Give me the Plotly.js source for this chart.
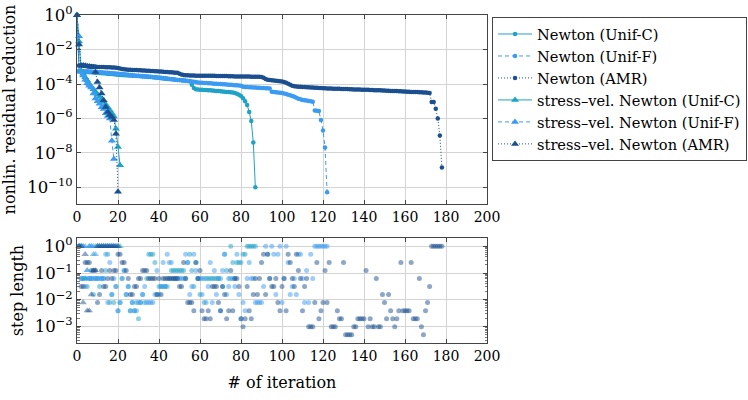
<!DOCTYPE html>
<html>
<head>
<meta charset="utf-8">
<script src="https://cdn.plot.ly/plotly-3.0.1.min.js"></script>
<style>
  html, body { margin: 0; padding: 0; background: #fff; }
  #chart { width: 748px; height: 400px; }
</style>
</head>
<body>
<div id="chart"></div>
<script>
// legend labels
const names = [
    'Newton (Unif-C)',
    'Newton (Unif-F)',
    'Newton (AMR)',
    'stress–vel. Newton (Unif-C)',
    'stress–vel. Newton (Unif-F)',
    'stress–vel. Newton (AMR)'
];
const colors = ['#1fa2c7', '#3b9bf2', '#1b4f8f'];

// nonlinear residual reduction, iteration 0..N
const resNewtonUnifC = [1,
    5.6e-4, 5.4e-4, 5.2e-4, 5.1e-4, 5.0e-4, 4.9e-4, 4.8e-4, 4.7e-4, 4.6e-4, 4.5e-4,
    4.4e-4, 4.3e-4, 4.2e-4, 4.1e-4, 4.0e-4, 3.9e-4, 3.8e-4, 3.7e-4, 3.6e-4, 3.5e-4,
    3.4e-4, 3.35e-4, 3.3e-4, 3.25e-4, 3.2e-4, 3.15e-4, 3.1e-4, 3.0e-4, 2.95e-4, 2.9e-4,
    2.85e-4, 2.8e-4, 2.75e-4, 2.7e-4, 2.6e-4, 2.55e-4, 2.5e-4, 2.45e-4, 2.4e-4, 2.35e-4,
    2.3e-4, 2.25e-4, 2.2e-4, 2.1e-4, 2.0e-4, 1.95e-4, 1.9e-4, 1.8e-4, 1.75e-4, 1.7e-4,
    1.65e-4, 1.6e-4, 1.55e-4, 1.5e-4, 1.45e-4, 9e-5, 6e-5, 5.0e-5,
    4.8e-5, 4.7e-5, 4.6e-5, 4.5e-5, 4.45e-5, 4.4e-5, 4.3e-5, 4.2e-5, 4.1e-5, 4.0e-5,
    3.9e-5, 3.8e-5, 3.7e-5, 3.6e-5, 3.5e-5, 3.4e-5, 3.3e-5,
    3.2e-5, 3.0e-5, 2.7e-5, 2.4e-5, 2.0e-5, 1.5e-5, 1.0e-5,
    6e-6, 2.4e-6, 7e-7, 4e-8, 1e-10];
const resNewtonUnifF = [1,
    6.0e-4, 5.8e-4, 5.7e-4, 5.6e-4, 5.5e-4, 5.4e-4, 5.3e-4, 5.2e-4, 5.1e-4, 5.0e-4,
    4.9e-4, 4.8e-4, 4.7e-4, 4.6e-4, 4.5e-4, 4.4e-4, 4.3e-4, 4.2e-4, 4.1e-4, 4.0e-4,
    3.9e-4, 3.8e-4, 3.7e-4, 3.6e-4, 3.5e-4, 3.4e-4, 3.3e-4, 3.2e-4, 3.1e-4, 3.0e-4,
    2.95e-4, 2.9e-4, 2.85e-4, 2.8e-4, 2.75e-4, 2.7e-4, 2.6e-4, 2.5e-4, 2.4e-4, 2.3e-4,
    2.2e-4, 2.1e-4, 2.05e-4, 2.0e-4, 1.95e-4, 1.9e-4, 1.85e-4, 1.8e-4, 1.75e-4, 1.7e-4,
    1.65e-4, 1.6e-4, 1.55e-4, 1.5e-4, 1.45e-4, 1.4e-4, 1.35e-4, 1.3e-4, 1.25e-4, 1.2e-4,
    1.18e-4, 1.16e-4, 1.14e-4, 1.12e-4, 1.1e-4, 1.08e-4, 1.06e-4, 1.04e-4, 1.02e-4, 1.0e-4,
    9.8e-5, 9.6e-5, 9.4e-5, 9.2e-5, 9.0e-5, 8.8e-5, 8.6e-5, 8.4e-5, 8.2e-5, 8.0e-5,
    7.0e-5, 6.8e-5, 6.7e-5, 6.6e-5, 6.5e-5, 6.4e-5, 6.3e-5, 6.2e-5, 6.1e-5, 6.0e-5,
    5.9e-5, 5.8e-5, 5.7e-5, 5.6e-5, 3.6e-5, 3.4e-5, 3.3e-5, 3.2e-5, 3.1e-5, 3.0e-5,
    2.8e-5, 2.6e-5, 2.4e-5, 2.2e-5, 2.0e-5, 1.8e-5, 1.6e-5, 1.4e-5, 1.3e-5, 1.2e-5,
    1.15e-5, 1.1e-5, 1.05e-5, 1.0e-5, 9.5e-6,
    2.9e-6, 2.8e-6, 2.7e-6, 8e-7, 2e-7, 2e-8, 5e-11];
const resNewtonAMR = [1,
    1.2e-3, 1.2e-3, 1.15e-3, 1.15e-3, 1.1e-3, 1.1e-3, 1.1e-3, 1.05e-3, 1.05e-3, 1.0e-3,
    1.0e-3, 9.8e-4, 9.7e-4, 9.6e-4, 9.5e-4, 9.4e-4, 9.3e-4, 9.2e-4, 9.0e-4, 8.5e-4,
    8.0e-4, 7.6e-4, 7.3e-4, 7.1e-4, 6.9e-4, 6.8e-4, 6.7e-4, 6.6e-4, 6.5e-4, 6.4e-4,
    6.3e-4, 6.2e-4, 6.1e-4, 6.0e-4, 5.9e-4, 5.8e-4, 5.7e-4, 5.6e-4, 5.5e-4, 5.4e-4,
    5.3e-4, 5.2e-4, 5.1e-4, 5.0e-4, 4.9e-4, 4.8e-4, 4.7e-4, 4.6e-4, 4.5e-4, 4.0e-4,
    3.6e-4, 3.4e-4, 3.3e-4, 3.3e-4, 3.2e-4, 3.2e-4, 3.2e-4, 3.1e-4, 3.1e-4, 3.1e-4,
    3.1e-4, 3.05e-4, 3.05e-4, 3.0e-4, 3.0e-4, 3.0e-4, 3.0e-4, 2.95e-4, 2.95e-4, 2.95e-4,
    2.9e-4, 2.9e-4, 2.9e-4, 2.85e-4, 2.85e-4, 2.85e-4, 2.8e-4, 2.8e-4, 2.8e-4, 2.8e-4,
    2.8e-4, 2.75e-4, 2.75e-4, 2.75e-4, 2.7e-4, 2.7e-4, 2.7e-4, 2.7e-4, 2.65e-4, 2.6e-4,
    2.3e-4, 2.0e-4, 1.8e-4, 1.7e-4, 1.65e-4, 1.6e-4, 1.55e-4, 1.5e-4, 1.45e-4, 1.4e-4,
    1.3e-4, 1.2e-4, 1.05e-4, 9.0e-5, 8.0e-5, 7.5e-5, 7.2e-5, 7.0e-5, 6.9e-5, 6.8e-5,
    6.7e-5, 6.6e-5, 6.5e-5, 6.4e-5, 6.3e-5, 6.2e-5, 6.1e-5, 6.0e-5, 5.9e-5, 5.8e-5,
    5.7e-5, 5.6e-5, 5.5e-5, 5.5e-5, 5.4e-5, 5.4e-5, 5.3e-5, 5.3e-5, 5.2e-5, 5.2e-5,
    5.1e-5, 5.1e-5, 5.0e-5, 5.0e-5, 4.9e-5, 4.9e-5, 4.8e-5, 4.8e-5, 4.7e-5, 4.7e-5,
    4.6e-5, 4.6e-5, 4.5e-5, 4.5e-5, 4.4e-5, 4.4e-5, 4.3e-5, 4.3e-5, 4.2e-5, 4.2e-5,
    4.1e-5, 4.1e-5, 4.0e-5, 4.0e-5, 3.9e-5, 3.9e-5, 3.8e-5, 3.8e-5, 3.7e-5, 3.7e-5,
    3.6e-5, 3.6e-5, 3.5e-5, 3.5e-5, 3.4e-5, 3.4e-5, 3.3e-5, 3.3e-5, 3.2e-5, 3.2e-5,
    3.1e-5, 3.0e-5, 9e-6, 9e-6, 3.7e-6, 1.0e-6, 1.0e-7, 1.4e-9];
const resStressUnifC = [1, 3e-2, 6e-4, 4e-4, 2.5e-4, 1.6e-4, 1.0e-4, 7e-5, 5e-5, 3.5e-5, 2.5e-5,
    1.8e-5, 1.3e-5, 9e-6, 6.5e-6, 4.5e-6, 3e-6, 2e-6, 1.3e-6, 2.5e-7, 2.2e-8, 1.9e-9];
const resStressUnifF = [1, 6e-2, 5e-4, 3.2e-4, 1.8e-4, 1.1e-4, 7.9e-5, 6.3e-5, 2.8e-5, 1.45e-5,
    1.0e-5, 7.1e-6, 4.5e-6, 3.5e-6, 2.0e-6, 1.4e-6, 1.0e-6, 5.0e-8, 4.3e-9];
const resStressAMR = [1, 2e-2, 1.2e-3, 1.2e-3, 1.15e-3, 1.1e-3, 1.05e-3, 1.0e-3, 9.5e-4, 5e-4,
    1.3e-4, 6.3e-5, 2.8e-5, 1.15e-5, 4.7e-6, 2.4e-6, 1.6e-6, 1.2e-6, 8e-7, 1.3e-7, 5.4e-11];

// step length per iteration, iteration 1..N
const stepNewtonUnifC = [
    1, .0625, .0625, .0625, .03125, .0625, .0625, .0156, .0625, .0625,
    .03125, .0625, .0625, .125, .5, .0078, .0156, .0078, .03125, .0039,
    .0078, .0625, .125, .0156, .03125, .0039, .0078, .0039, .0078, .00195,
    .0078, .0156, .0078, .0625, .5, .5, .5, .25, .0156, .03125,
    .03125, .03125, .03125, .03125, .0625, .125, .125, .125, .125, .125,
    .125, .125, .0625, .25, .5, .125, .03125, .25, .0625, .0156,
    .0625, .0078, .0625, .0625, .0625, .0625, .0625, .0625, .0625, .0625,
    .03125, .5, .125, .0625, 1, .25, .0625, .25, .25, .25,
    .5, .5, 1, 1, 1, 1, 1];
const stepNewtonUnifF = [
    1, .0625, .0625, .03125, .0625, .0625, .0625, .0625, .0625, .0625,
    .0625, .0625, .0625, .5, .0078, .25, .0156, .0625, .03125, .0039,
    .0078, .0625, .125, .0156, .03125, .0039, .0078, .0039, .0039, .0078,
    .0078, .0156, .03125, .0078, .0078, .0078, .0078, .0156, .125, .0156,
    .03125, .25, .03125, .5, .25, .25, .0625, .0625, .0625, .0625,
    .0625, .0625, .5, .25, .0156, .03125, .5, .125, .0625, .0625,
    .0156, .0625, .0078, .03125, .25, .0078, .125, .0156, .0625, .0039,
    .125, .5, .0156, .03125, .0625, .0625, .03125, .5, .0156, .00195,
    .0078, .0039, .0625, .25, .0625, .0625, .0078, .0078, .0078, .0078,
    .03125, 1, .5, .0625, 1, .5, .0156, .5, 1, .0078,
    .0625, 1, .25, .0156, .03125, .0625, .0156, .5, .5, .0625,
    .0078, .125, .0078, .5, .0625, 1, 1, 1, 1, 1,
    1, 1];
const stepNewtonAMR = [
    1, .03125, .03125, .25, .25, .25, .125, .125, .125, .0078,
    .0156, .125, .03125, .03125, .0625, .125, .0625, .125, .125, .5,
    .5, .25, .25, .125, .0625, .0156, .0156, .03125, .03125, .0625,
    .0625, .125, .125, .125, .0625, .0625, .0625, .0625, .0156, .0625,
    .0156, .0625, .0625, .0625, .0625, .0625, .0625, .0625, .0625, .03125,
    .03125, .25, .0625, .0078, .0078, .0078, .0039, .25, .0625, .125,
    .0039, .00195, .00195, .0039, .00195, .03125, .03125, .03125, .0078, .0039,
    .03125, .0156, .00195, .0039, .125, .0039, .0625, .0625, .03125, .00195,
    .00098, .00195, .03125, .0039, .00195, .0156, .0625, .0156, .0625, .25,
    .5, .0156, .5, .0625, .03125, .03125, .0625, .0078, .0039, .03125,
    .0625, .0039, .5, .25, .0625, .03125, .5, .125, .0625, .0039,
    .03125, .0625, .00098, .00098, .00098, .0078, .25, .00195, .0039, .0078,
    .125, .0078, .25, .00098, .00098, .00098, .0039, .00195, .00195, .25,
    .00049, .00049, .00049, .00049, .00098, .00098, .00195, .00195, .00195, .00195,
    .125, .00098, .00195, .00098, .00098, .0625, .00098, .00098, .0156, .0078,
    .00195, .0156, .0039, .00195, .00098, .00195, .0039, .25, .0039, .0039,
    .0039, .0039, .25, .00195, .00195, .00195, .0625, .00098, .00049, .0039,
    .0078, .03125, 1, 1, 1, 1, 1, 1];
const stepStressUnifC = [1, 1, 1, .0625, .125, 1, 1, .5, 1, 1, 1, 1, 1, 1, 1, 1, 1, 1, 1, 1, 1];
const stepStressUnifF = [1, 1, 1, 1, .125, 1, 1, 1, .5, 1, 1, 1, 1, 1, 1, 1, 1, 1];
const stepStressAMR = [1, 1, .0078, .5, .0039, .0039, .0156, .125, .125, 1, 1, 1, 1, 1, 1, 1, 1, 1, 1, 1];

const residuals = [resNewtonUnifC, resNewtonUnifF, resNewtonAMR, resStressUnifC, resStressUnifF, resStressAMR];
const steps = [stepNewtonUnifC, stepNewtonUnifF, stepNewtonAMR, stepStressUnifC, stepStressUnifF, stepStressAMR];

const xTicks = [0, 20, 40, 60, 80, 100, 120, 140, 160, 180, 200];
const resTicks = [1, 1e-2, 1e-4, 1e-6, 1e-8, 1e-10];
const resTickText = ['10<sup>0</sup>', '10<sup>−2</sup>', '10<sup>−4</sup>', '10<sup>−6</sup>', '10<sup>−8</sup>', '10<sup>−10</sup>'];
const stepTicks = [1, 1e-1, 1e-2, 1e-3];
const stepTickText = ['10<sup>0</sup>', '10<sup>−1</sup>', '10<sup>−2</sup>', '10<sup>−3</sup>'];
const stepMinor = [];
[1e-4, 1e-3, 1e-2, 1e-1, 1].forEach(d => [2, 3, 4, 5, 6, 7, 8, 9].forEach(m => stepMinor.push(d * m)));

const dashes = ['solid', '4px,3px', '1px,2px'];
const font = 'DejaVu Serif';

const traces = [];
residuals.forEach((ys, i) => {
    const c = colors[i % 3];
    const stress = i >= 3;
    traces.push({
        x: ys.map((_, k) => k),
        y: ys,
        type: 'scatter',
        mode: 'lines+markers',
        name: names[i],
        cliponaxis: false,
        line: { color: c, width: 1, dash: dashes[i % 3] },
        marker: { color: c, symbol: stress ? 'triangle-up' : 'circle', size: stress ? 7 : 4.5 },
        xaxis: 'x', yaxis: 'y'
    });
});
steps.forEach((ys, i) => {
    const c = colors[i % 3];
    const stress = i >= 3;
    traces.push({
        x: ys.map((_, k) => k + 1),
        y: ys,
        type: 'scatter',
        mode: 'markers',
        name: names[i],
        showlegend: false,
        cliponaxis: false,
        marker: { color: c, opacity: 0.5, symbol: stress ? 'triangle-up' : 'circle', size: stress ? 6.5 : 5 },
        xaxis: 'x2', yaxis: 'y2'
    });
});

const axisBase = {
    showline: true, linecolor: '#444', linewidth: 1, mirror: 'allticks',
    ticks: 'inside', ticklen: 4, tickcolor: '#444', tickwidth: 1,
    showgrid: true, gridcolor: '#d4d4d4', gridwidth: 1, zeroline: false,
    tickfont: { family: font, size: 14, color: '#000' }
};
const yTickFont = { family: font, size: 16.5, color: '#000' };
const titleFont = { family: font, size: 16, color: '#000' };

const layout = {
    width: 748, height: 400,
    margin: { l: 77, r: 261, t: 15, b: 57, autoexpand: false },
    paper_bgcolor: '#fff', plot_bgcolor: '#fff',
    font: { family: font, size: 14, color: '#000' },
    showlegend: true,
    legend: {
        xref: 'container', yref: 'container',
        x: 0.6578, y: 0.9575, xanchor: 'left', yanchor: 'top',
        bordercolor: '#444', borderwidth: 1, bgcolor: '#fff',
        font: { family: font, size: 14.6, color: '#000' },
        itemwidth: 34, tracegroupgap: 0
    },
    xaxis: Object.assign({}, axisBase, {
        domain: [0, 1], range: [0, 200], anchor: 'y',
        tickmode: 'array', tickvals: xTicks
    }),
    yaxis: Object.assign({}, axisBase, {
        domain: [0.4238, 1], type: 'log', range: [-10.98, 0.02], anchor: 'x',
        tickmode: 'array', tickvals: resTicks, ticktext: resTickText, tickfont: yTickFont,
        title: { text: 'nonlin. residual reduction', font: titleFont, standoff: 7 }
    }),
    xaxis2: Object.assign({}, axisBase, {
        domain: [0, 1], range: [0, 200], anchor: 'y2',
        tickmode: 'array', tickvals: xTicks,
        title: { text: '# of iteration', font: titleFont, standoff: 14 }
    }),
    yaxis2: Object.assign({}, axisBase, {
        domain: [0, 0.3201], type: 'log', range: [-3.62, 0.31], anchor: 'x2',
        tickmode: 'array', tickvals: stepTicks, ticktext: stepTickText, tickfont: yTickFont,
        minor: { ticks: 'inside', ticklen: 2.5, tickcolor: '#777', tickmode: 'array', tickvals: stepMinor, showgrid: false },
        title: { text: 'step length', font: titleFont, standoff: 7 }
    })
};

Plotly.newPlot('chart', traces, layout, { staticPlot: true, displayModeBar: false });
</script>
</body>
</html>
